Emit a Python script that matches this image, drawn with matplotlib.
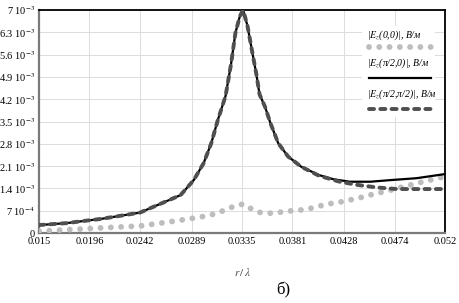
import matplotlib
matplotlib.use("Agg")
import matplotlib.pyplot as plt
from matplotlib.lines import Line2D
from matplotlib.patches import Rectangle
import numpy as np

plt.rcParams['font.family'] = ['Liberation Serif', 'DejaVu Serif']
plt.rcParams['mathtext.fontset'] = 'stix'

# Data (y in units of 1e-3 V/m)
x_main = [0.0150, 0.0175, 0.0196, 0.0206, 0.0242, 0.0269, 0.0279, 0.0291, 0.0300,
          0.0307, 0.0313, 0.0320, 0.0325, 0.0329, 0.0333, 0.0336, 0.0340, 0.0344,
          0.0348, 0.0351, 0.0356, 0.0361, 0.0368, 0.0377, 0.0389, 0.0405, 0.0418,
          0.0433, 0.0452, 0.0470, 0.0494, 0.0520]
ez_pi2_0 = [0.25, 0.31, 0.40, 0.44, 0.64, 1.04, 1.19, 1.66, 2.19,
            2.82, 3.55, 4.30, 5.30, 6.28, 6.80, 7.00, 6.50, 5.74,
            5.00, 4.35, 3.96, 3.44, 2.82, 2.40, 2.08, 1.82, 1.69,
            1.61, 1.61, 1.66, 1.72, 1.85]

x_dash = [0.0150, 0.0175, 0.0196, 0.0206, 0.0242, 0.0269, 0.0279, 0.0291, 0.0300,
          0.0307, 0.0313, 0.0320, 0.0325, 0.0329, 0.0333, 0.0336, 0.0340, 0.0344,
          0.0348, 0.0351, 0.0356, 0.0361, 0.0368, 0.0377, 0.0389, 0.0405, 0.0424,
          0.0440, 0.0458, 0.0476, 0.0500, 0.0520]
ez_pi2_pi2 = [0.25, 0.31, 0.40, 0.44, 0.64, 1.04, 1.19, 1.66, 2.19,
              2.82, 3.55, 4.30, 5.30, 6.28, 6.80, 7.00, 6.50, 5.74,
              5.00, 4.35, 3.96, 3.44, 2.82, 2.40, 2.08, 1.80, 1.61,
              1.51, 1.43, 1.38, 1.38, 1.38]

x_dot = [0.0150, 0.0175, 0.0206, 0.0242, 0.0269, 0.0297, 0.0309, 0.0318, 0.0327,
         0.0336, 0.0344, 0.0352, 0.0360, 0.0369, 0.0378, 0.0388, 0.0397, 0.0406,
         0.0413, 0.0421, 0.0430, 0.0440, 0.0449, 0.0457, 0.0466, 0.0473, 0.0482,
         0.0491, 0.0500, 0.0509, 0.0517, 0.0520]
ez_0_0 = [0.06, 0.10, 0.16, 0.22, 0.35, 0.50, 0.59, 0.70, 0.83,
          0.91, 0.75, 0.64, 0.62, 0.65, 0.69, 0.72, 0.77, 0.85,
          0.91, 0.95, 1.01, 1.09, 1.16, 1.25, 1.30, 1.37, 1.45,
          1.53, 1.61, 1.68, 1.75, 1.78]

x_ticks = [0.015, 0.0196, 0.0242, 0.0289, 0.0335, 0.0381, 0.0428, 0.0474, 0.052]
x_ticklabels = ['0.015', '0.0196', '0.0242', '0.0289', '0.0335', '0.0381',
                '0.0428', '0.0474', '0.052']
y_ticks = [0, 0.7, 1.4, 2.1, 2.8, 3.5, 4.2, 4.9, 5.6, 6.3, 7.0]
y_ticklabels = ['0', r'7 10$^{-4}$', r'1.4 10$^{-3}$', r'2.1 10$^{-3}$', r'2.8 10$^{-3}$',
                r'3.5 10$^{-3}$', r'4.2 10$^{-3}$', r'4.9 10$^{-3}$', r'5.6 10$^{-3}$',
                r'6.3 10$^{-3}$', r'7 10$^{-3}$']
labels = [r'|$E_z$(0,0)|, В/м', r'|$E_z$(π/2,0)|, В/м', r'|$E_z$(π/2,π/2)|, В/м']

fig = plt.figure(figsize=(4.59, 3.03), dpi=100)
ax = fig.add_axes([0.085, 0.231, 0.8845, 0.736])

dot_color = '#bdbdbd'
dash_color = '#4f4f4f'
dot_style = dict(color=dot_color, lw=4.2, linestyle=(0, (0.01, 1.75)), dash_capstyle='round')
line_style = dict(color='black', lw=1.6)
dash_style = dict(color=dash_color, lw=2.8, linestyle=(0, (1.3, 1.6)), dash_capstyle='round')

ax.plot(x_dot, ez_0_0, zorder=3, **dot_style)
ax.plot(x_main, ez_pi2_0, zorder=4, **line_style)
ax.plot(x_dash, ez_pi2_pi2, zorder=5, **dash_style)

ax.set_xlim(0.015, 0.052)
ax.set_ylim(0, 7.0)
ax.set_xticks(x_ticks)
ax.set_xticklabels(x_ticklabels, fontsize=7.5)
ax.set_yticks(y_ticks)
ax.set_yticklabels(y_ticklabels, fontsize=7.5)
ax.tick_params(length=0, pad=3)
ax.grid(True, color='#dcdcdc', lw=0.7)
ax.set_axisbelow(True)
for s in ['top', 'right']:
    ax.spines[s].set_color('black')
    ax.spines[s].set_linewidth(1.3)
for s in ['left', 'bottom']:
    ax.spines[s].set_color('#7a7a7a')
    ax.spines[s].set_linewidth(1.6)

ax.set_xlabel(r'$r\,/\,\lambda$', fontsize=8, color='#444444', labelpad=14)

# Legend (manual, text above sample line)
ax.add_patch(Rectangle((0.795, 0.52), 0.18, 0.41, transform=ax.transAxes,
                       facecolor='white', edgecolor='none', zorder=2))
styles = [dot_style, line_style, dash_style]
text_y = [0.888, 0.762, 0.624]
line_y = [0.835, 0.695, 0.556]
for lab, st, ty, ly in zip(labels, styles, text_y, line_y):
    ax.text(0.808, ty, lab, transform=ax.transAxes, fontsize=7, style='italic',
            va='center', ha='left', zorder=6)
    ax.add_line(Line2D([0.812, 0.966], [ly, ly], transform=ax.transAxes, zorder=6, **st))

fig.text(0.617, 0.043, 'б)', fontsize=12, ha='center', va='center')

fig.savefig('out.png', dpi=100)
